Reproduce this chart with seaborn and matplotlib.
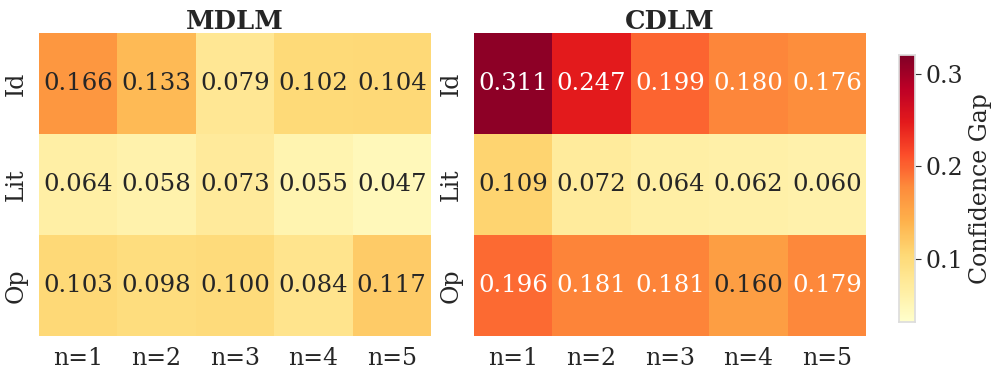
import numpy as np
import pandas as pd
import matplotlib
matplotlib.use("Agg")
import matplotlib.pyplot as plt
import seaborn as sns

rows = ["Id", "Lit", "Op"]
cols = ["n=1", "n=2", "n=3", "n=4", "n=5"]
mdlm_id = [0.166, 0.133, 0.079, 0.102, 0.104]
mdlm_lit = [0.064, 0.058, 0.073, 0.055, 0.047]
mdlm_op = [0.103, 0.098, 0.100, 0.084, 0.117]
cdlm_id = [0.311, 0.247, 0.199, 0.180, 0.176]
cdlm_lit = [0.109, 0.072, 0.064, 0.062, 0.060]
cdlm_op = [0.196, 0.181, 0.181, 0.160, 0.179]
titles = ["MDLM", "CDLM"]
cbar_label = "Confidence Gap"

sns.set_theme(style="white")
plt.rcParams["font.family"] = ["DejaVu Serif"]

mdlm = pd.DataFrame([mdlm_id, mdlm_lit, mdlm_op], index=rows, columns=cols)
cdlm = pd.DataFrame([cdlm_id, cdlm_lit, cdlm_op], index=rows, columns=cols)

vmin, vmax = 0.032, 0.32

fig = plt.figure(figsize=(9.97, 3.76), dpi=100)
W, H = 997, 376
def ax_at(x0, y0, x1, y1):
    return fig.add_axes([x0 / W, 1 - y1 / H, (x1 - x0) / W, (y1 - y0) / H])

ax1 = ax_at(39, 33, 431, 336)
ax2 = ax_at(474, 33, 866, 336)
cax = ax_at(899, 55, 915, 322)

for ax, df, title, cb in [(ax1, mdlm, titles[0], False), (ax2, cdlm, titles[1], True)]:
    sns.heatmap(df, ax=ax, cmap="YlOrRd", vmin=vmin, vmax=vmax, annot=True, fmt=".3f",
                annot_kws={"fontsize": 17.6}, linewidths=0,
                cbar=cb, cbar_ax=cax if cb else None,
                cbar_kws={"label": cbar_label} if cb else None)
    ax.set_title(title, fontsize=18.5, fontweight="bold", pad=3)
    ax.tick_params(axis="both", labelsize=17, length=0, pad=8)
    ax.set_yticklabels(rows, rotation=90, va="center")
    ax.set_xticklabels(cols, rotation=0)
    ax.set_xlabel("")
    ax.set_ylabel("")

cax.tick_params(labelsize=17, length=4, width=0.8, color="#333333")
cax.set_yticks([0.1, 0.2, 0.3])
cax.set_ylabel(cbar_label, fontsize=17)
for s in cax.spines.values():
    s.set_visible(True)
    s.set_color("#dddddd")

fig.savefig("out.png", dpi=100)
